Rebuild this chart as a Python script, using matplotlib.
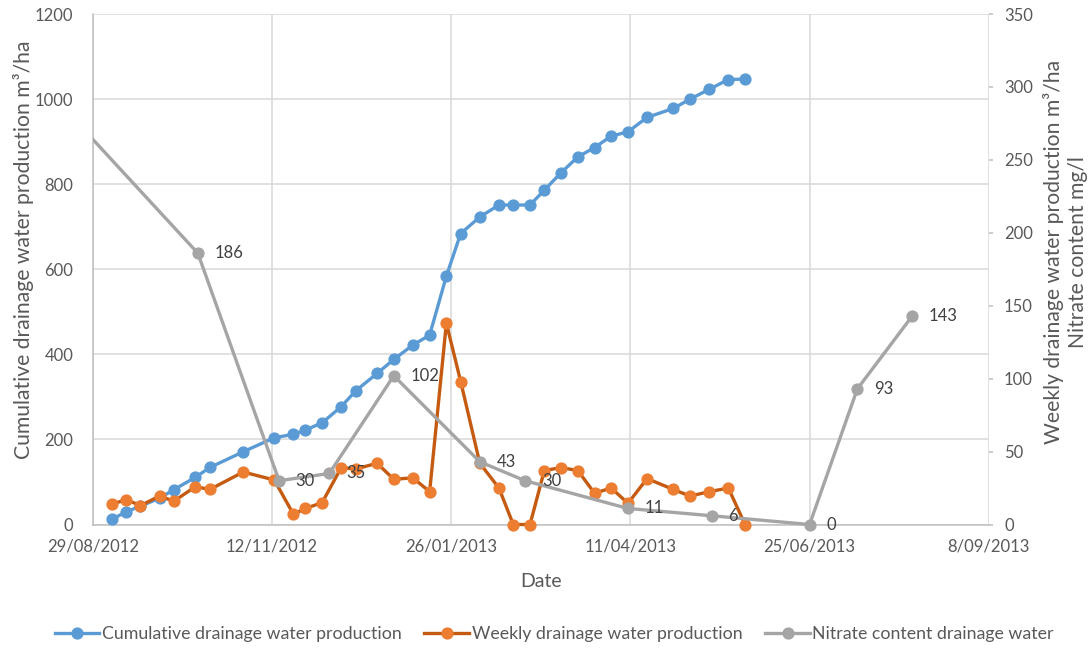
import matplotlib
matplotlib.use("Agg")
import matplotlib.pyplot as plt
import matplotlib.dates as mdates
import pandas as pd
from matplotlib.lines import Line2D
from matplotlib.patches import Rectangle

plt.rcParams['font.family'] = ['Lato', 'DejaVu Sans']

# ---------------- data ----------------
weekly_dates = ["2012-09-06", "2012-09-12", "2012-09-18", "2012-09-26", "2012-10-02",
                "2012-10-11", "2012-10-17", "2012-10-31", "2012-11-13", "2012-11-21",
                "2012-11-26", "2012-12-03", "2012-12-11", "2012-12-17", "2012-12-26",
                "2013-01-02", "2013-01-10", "2013-01-17", "2013-01-24", "2013-01-30",
                "2013-02-07", "2013-02-15", "2013-02-21", "2013-02-28", "2013-03-06",
                "2013-03-13", "2013-03-20", "2013-03-27", "2013-04-03", "2013-04-10",
                "2013-04-18", "2013-04-29", "2013-05-06", "2013-05-14", "2013-05-22",
                "2013-05-29"]
cumulative = [12, 30, 43, 62, 82, 111, 134, 171, 204, 212,
              222, 239, 277, 314, 355, 388, 422, 445, 584, 684,
              723, 751, 751, 751, 786, 827, 864, 886, 913, 923,
              957, 978, 1000, 1023, 1046, 1047]
weekly = [14, 17, 13, 19.5, 16, 26, 24, 36, 30.5, 7,
          11, 15, 39, 38, 42, 31, 32, 22.5, 138, 98,
          42, 25, 0, 0, 37, 39, 37, 21.5, 25, 14.5,
          31.5, 24, 19.5, 22.5, 25, 0]
nitrate_dates = ["2012-08-15", "2012-10-12", "2012-11-15", "2012-12-06", "2013-01-02",
                 "2013-02-07", "2013-02-26", "2013-04-10", "2013-05-15", "2013-06-25",
                 "2013-07-15", "2013-08-07"]
nitrate = [289, 186, 30, 35, 102, 43, 30, 11, 6, 0, 93, 143]

x_tick_dates = ["2012-08-29", "2012-11-12", "2013-01-26", "2013-04-11", "2013-06-25", "2013-09-08"]
x_tick_labels = ["29/08/2012", "12/11/2012", "26/01/2013", "11/04/2013", "25/06/2013", "8/09/2013"]
left_ticks = [0, 200, 400, 600, 800, 1000, 1200]
right_ticks = [0, 50, 100, 150, 200, 250, 300, 350]

series_names = ["Cumulative drainage water production",
                "Weekly drainage water production",
                "Nitrate content drainage water"]
left_title = "Cumulative drainage water production m\u00b3/ha"
right_title = "Weekly drainage water production m\u00b3/ha\nNitrate content mg/l"
x_title = "Date"

BLUE = "#5B9BD5"
ORANGE_LINE = "#C55A11"
ORANGE_MARK = "#ED7D31"
GRAY = "#A5A5A5"
TXT = "#595959"

wd = pd.to_datetime(weekly_dates)
nd = pd.to_datetime(nitrate_dates)
xt = pd.to_datetime(x_tick_dates)

fig = plt.figure(figsize=(10.91, 6.49), dpi=100)
ax = fig.add_axes([0.08497, 0.19183, 0.82136, 0.78659])
ax2 = ax.twinx()

ax.set_xlim(xt[0], xt[-1])
ax.set_ylim(0, 1200)
ax2.set_ylim(0, 350)

ax.set_axisbelow(True)
ax.grid(True, color="#D9D9D9", lw=1.1)
ax.set_xticks(xt)
ax.set_xticklabels(x_tick_labels)
ax.set_yticks(left_ticks)
ax2.set_yticks(right_ticks)

for s in ["top", "right"]:
    ax.spines[s].set_visible(False)
for s in ["left", "bottom"]:
    ax.spines[s].set_color("#BFBFBF")
    ax.spines[s].set_linewidth(1.1)
for s in ax2.spines.values():
    s.set_visible(False)

ax.tick_params(axis="x", length=0, pad=10, labelsize=12, labelcolor=TXT)
ax.tick_params(axis="y", length=0, pad=14, labelsize=12, labelcolor=TXT)
ax2.tick_params(axis="y", length=3, width=1.1, color="#BFBFBF", pad=8,
                labelsize=12, labelcolor=TXT)


def clipper(a):
    return Rectangle((0, -0.1), 1.2, 1.3, transform=a.transAxes,
                     facecolor="none", edgecolor="none")


l1, = ax.plot(wd, cumulative, color=BLUE, lw=2.4, marker="o", ms=7.8,
              mfc=BLUE, mec=BLUE, zorder=3)
l1.set_clip_path(clipper(ax))
l2, = ax2.plot(wd, weekly, color=ORANGE_LINE, lw=2.4, marker="o", ms=7.8,
               mfc=ORANGE_MARK, mec=ORANGE_MARK, zorder=3)
l2.set_clip_path(clipper(ax2))
l3, = ax2.plot(nd, nitrate, color=GRAY, lw=2.4, marker="o", ms=7.8,
               mfc=GRAY, mec=GRAY, zorder=4)
l3.set_clip_path(clipper(ax2))

for d, v in zip(nd, nitrate):
    if d < xt[0]:
        continue
    ax2.annotate(f"{v:g}", (d, v), xytext=(12, 0), textcoords="offset points",
                 ha="left", va="center", fontsize=12, color="#404040", zorder=5)

fig.text(24 / 1091, 1 - 250 / 649, left_title, rotation=90, ha="center", va="center",
         fontsize=15.2, color=TXT)
fig.text(1066 / 1091, 1 - 252 / 649, right_title, rotation=90, ha="center", va="center",
         fontsize=15.2, color=TXT, multialignment="center", linespacing=1.25)
fig.text(540.7 / 1091, 1 - 581.7 / 649, x_title, ha="center", va="center",
         fontsize=14, color=TXT)

handles = [Line2D([], [], color=BLUE, lw=2.4, marker="o", ms=7.8, mfc=BLUE, mec=BLUE),
           Line2D([], [], color=ORANGE_LINE, lw=2.4, marker="o", ms=7.8,
                  mfc=ORANGE_MARK, mec=ORANGE_MARK),
           Line2D([], [], color=GRAY, lw=2.4, marker="o", ms=7.8, mfc=GRAY, mec=GRAY)]
leg = fig.legend(handles, series_names, loc="center", bbox_to_anchor=(0.508, 0.023),
                 ncol=3, frameon=False, fontsize=12.8, handlelength=2.5,
                 handletextpad=0.15, columnspacing=1.3, labelcolor=TXT)

fig.savefig("out.png", dpi=100)
